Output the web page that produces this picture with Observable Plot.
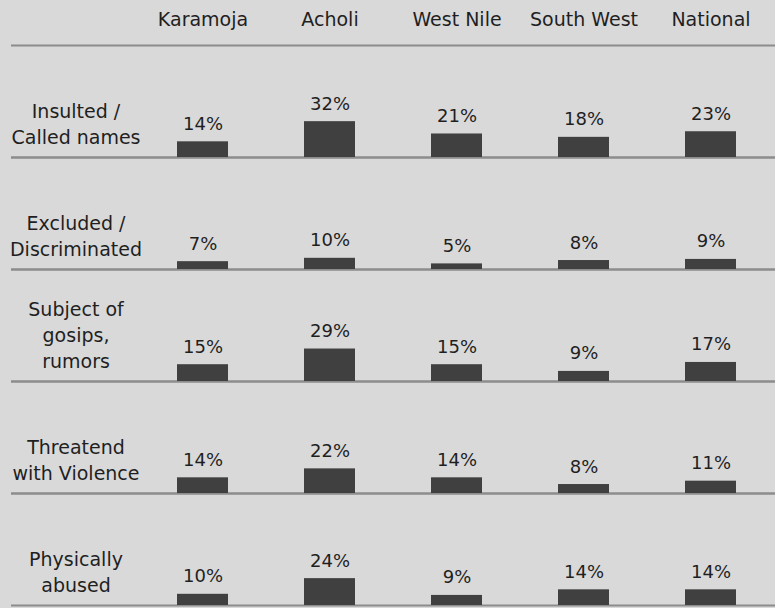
<!DOCTYPE html>
<html>
<head>
<meta charset="utf-8">
<script src="https://cdn.jsdelivr.net/npm/d3@7"></script>
<script src="https://cdn.jsdelivr.net/npm/@observablehq/plot@0.6"></script>
<style>
  html, body { margin: 0; padding: 0; background: #d9d9d9; }
</style>
</head>
<body>
<div id="chart"></div>
<script>
const regions = ["Karamoja", "Acholi", "West Nile", "South West", "National"];
const categories = [
  "Insulted /\nCalled names",
  "Excluded /\nDiscriminated",
  "Subject of\ngosips,\nrumors",
  "Threatend\nwith Violence",
  "Physically\nabused"
];
const insulted   = [14, 32, 21, 18, 23];
const excluded   = [7, 10, 5, 8, 9];
const gossip     = [15, 29, 15, 9, 17];
const threatened = [14, 22, 14, 8, 11];
const physical   = [10, 24, 9, 14, 14];

const series = [insulted, excluded, gossip, threatened, physical];
const rows = categories.flatMap((c, i) =>
  regions.map((r, j) => ({category: c, region: r, value: series[i][j]}))
);

const chart = Plot.plot({
  width: 775,
  height: 608,
  marginTop: 44,
  marginBottom: 2,
  marginLeft: 11,
  marginRight: 0,
  style: {background: "#d9d9d9", fontFamily: "DejaVu Sans", fontSize: "19px", color: "#1f1f1f"},
  x: {domain: ["", ...regions], padding: 0, axis: "top", tickSize: 0, tickPadding: 20, label: null},
  y: {domain: [0, 100], axis: null},
  fy: {domain: categories, padding: 0, axis: null},
  marks: [
    Plot.ruleY([0, 100], {stroke: "#8c8c8c", strokeWidth: 2}),
    Plot.barY(rows, {x: "region", y: "value", fy: "category", fill: "#404040", insetLeft: 38, insetRight: 38}),
    Plot.text(rows, {x: "region", y: "value", fy: "category", text: d => d.value + "%", dy: -12, lineAnchor: "bottom", fill: "#1f1f1f", fontSize: 18}),
    Plot.text(categories, {x: () => "", fy: d => d, text: d => d, frameAnchor: "bottom", lineAnchor: "bottom", dy: -14, lineHeight: 1.35, fill: "#1f1f1f"})
  ]
});
document.getElementById("chart").appendChild(chart);
</script>
</body>
</html>
